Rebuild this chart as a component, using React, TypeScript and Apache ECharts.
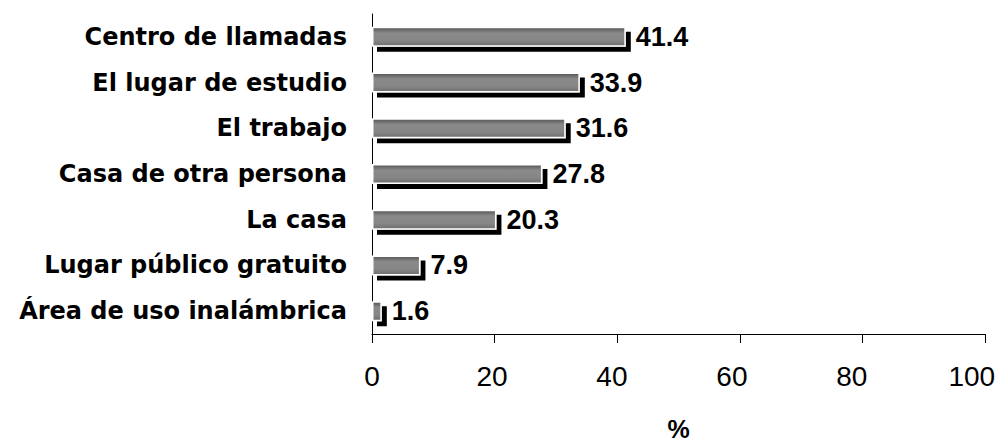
import React, { useEffect, useRef } from "react";
import * as echarts from "echarts";

const categories = [
  "Área de uso inalámbrica",
  "Lugar público gratuito",
  "La casa",
  "Casa de otra persona",
  "El trabajo",
  "El lugar de estudio",
  "Centro de llamadas",
];
const values = [1.6, 7.9, 20.3, 27.8, 31.6, 33.9, 41.4];
const xTicks = [0, 20, 40, 60, 80, 100];

export default function App() {
  const ref = useRef<HTMLDivElement>(null);
  useEffect(() => {
    document.documentElement.style.overflow = "hidden";
    document.body.style.margin = "0";
    document.body.style.overflow = "hidden";
    const chart = echarts.init(ref.current!, null, { renderer: "svg", width: 1000, height: 446 });
    chart.setOption({
      animation: false,
      grid: { left: 372, right: 15, top: 14, bottom: 107 },
      xAxis: [
        {
          type: "value",
          min: xTicks[0],
          max: xTicks[xTicks.length - 1],
          interval: 20,
          name: "%",
          nameLocation: "middle",
          nameGap: 82,
          nameTextStyle: { fontFamily: "Liberation Sans", fontWeight: "bold", fontSize: 25, color: "#000" },
          axisLine: { show: true, lineStyle: { color: "#000", width: 1 } },
          axisTick: { show: true, length: 9, lineStyle: { color: "#000" } },
          axisLabel: { show: false },
          splitLine: { show: false },
        },
        {
          type: "value",
          position: "bottom",
          min: xTicks[0],
          max: 102.2,
          interval: 20,
          axisLine: { show: false },
          axisTick: { show: false },
          axisLabel: {
            fontFamily: "Liberation Sans",
            fontSize: 28,
            color: "#000",
            margin: 28,
            showMaxLabel: false,
          },
          splitLine: { show: false },
        },
      ],
      yAxis: {
        type: "category",
        data: categories,
        axisLine: { show: true, lineStyle: { color: "#000", width: 1 } },
        axisTick: { show: false },
        axisLabel: { fontFamily: "DejaVu Sans", fontWeight: "bold", fontSize: 24, color: "#000", margin: 25 },
      },
      series: [
        {
          type: "bar",
          xAxisIndex: 0,
          data: values,
          barWidth: 20,
          itemStyle: {
            color: new echarts.graphic.LinearGradient(0, 0, 0, 1, [
              { offset: 0, color: "#555555" },
              { offset: 0.3, color: "#8a8a8a" },
              { offset: 0.7, color: "#868686" },
              { offset: 1, color: "#6e6e6e" },
            ]),
            borderColor: "#fff",
            borderWidth: 1.5,
            shadowColor: "#000",
            shadowBlur: 0,
            shadowOffsetX: 5,
            shadowOffsetY: 5,
          },
          label: {
            show: true,
            position: "right",
            distance: 10,
            fontFamily: "Liberation Sans",
            fontWeight: "bold",
            fontSize: 27,
            color: "#000",
            formatter: (p: any) => p.value.toFixed(1),
          },
        },
      ],
    });
    return () => chart.dispose();
  }, []);
  return <div ref={ref} style={{ width: 1000, height: 446 }} />;
}
